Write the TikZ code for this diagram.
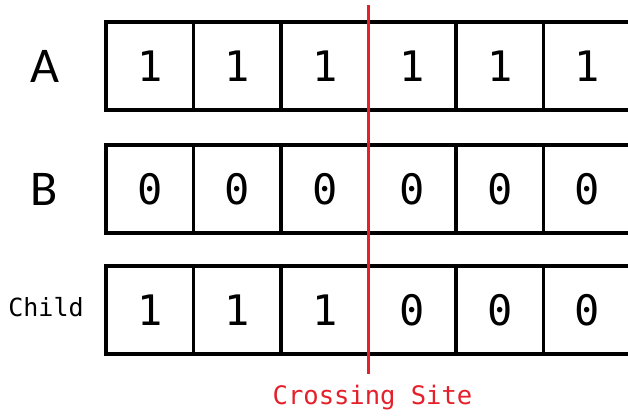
\documentclass[tikz,border=0pt]{standalone}
\usepackage{fontspec}
\newfontfamily\monof[RawFeature=+zero]{DejaVu Sans Mono}
\newfontfamily\sansf{Carlito}
\definecolor{siteRed}{RGB}{230,32,42}
\begin{document}
\begin{tikzpicture}[x=1pt,y=-1pt,
  cell/.style={draw=black, line width=3.2pt, minimum width=87.5pt, minimum height=88pt, inner sep=0pt, font=\monof\fontsize{42}{42}\selectfont},
  rowlab/.style={font=\sansf\fontsize{50}{50}\selectfont, inner sep=0pt},
  monolab/.style={font=\monof\fontsize{25}{25}\selectfont, inner sep=0pt}]
\useasboundingbox (0,0) rectangle (628,415);
\clip (0,0) rectangle (628,415);
\foreach \i/\v in {1/1,2/1,3/1,4/1,5/1,6/1}
  \node[cell] (A\i) at ({106+87.5*(\i-0.5)},66) {\v};
\foreach \i/\v in {1/0,2/0,3/0,4/0,5/0,6/0}
  \node[cell] (B\i) at ({106+87.5*(\i-0.5)},189) {\v};
\foreach \i/\v in {1/1,2/1,3/1,4/0,5/0,6/0}
  \node[cell] (C\i) at ({106+87.5*(\i-0.5)},310) {\v};
\node[rowlab] (la) at (45,66) {A};
\node[rowlab] (lb) at (44,189) {B};
\node[monolab] (lc) at (46,307) {Child};
\coordinate (ctop) at (368.5,5);
\coordinate (cbot) at (368.5,374);
\draw[siteRed, line width=3pt] (ctop) -- (cbot);
\node[monolab, text=siteRed, font=\monof\fontsize{25.5}{25.5}\selectfont] (cs) at (372.5,398) {Crossing Site};
\end{tikzpicture}
\end{document}
